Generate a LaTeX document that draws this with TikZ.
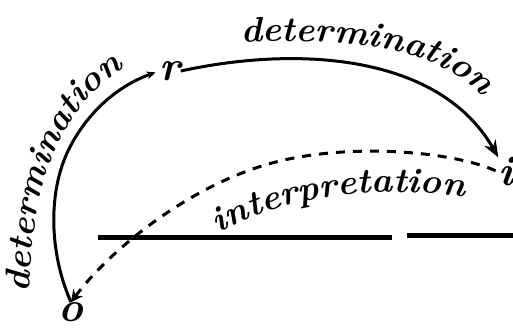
\documentclass[tikz,border=0pt]{standalone}
\usepackage{fontspec}
\usetikzlibrary{arrows.meta,decorations.text}
\newfontfamily\lmstretch[FakeStretch=1.03]{lmroman10-bolditalic.otf}
\tikzset{
  pt/.style={inner sep=0pt, font=\fontsize{42}{42}\selectfont\bfseries\itshape},
  solidarc/.style={line width=3pt},
  dasharc/.style={line width=3pt, dash pattern=on 9pt off 8pt},
  bar/.style={line width=5pt},
  arclabel/.style={decorate, decoration={text along path, text align=center,
     text={|\fontsize{35}{35}\lmstretch|#1}}}
}
\begin{document}
\begin{tikzpicture}[x=1pt,y=-1pt]
\useasboundingbox (0,0) rectangle (513,327);
\node[pt] (r) at (170,71) {r};
\node[pt] (i) at (506,172) {i};
\node[pt] (o) at (71,312) {o};
% horizontal bar
\draw[bar] (98,237) -- (392,237);
\draw[bar] (407,235.5) -- (513,235.5);
% o -> r
\draw[solidarc, -{Stealth[length=9pt,width=8pt]}, shorten >=4pt]
  (o.north) .. controls (52,260) and (46,200) .. (67,153)
  .. controls (85,115) and (115,87) .. (r.west);
% r -> i
\draw[solidarc, -{Stealth[length=17pt,width=13pt]}]
  (r.east) .. controls (300,45) and (440,55) .. (i.north west);
% i -> o dashed
\draw[dasharc, -{Stealth[length=12pt,width=12pt,inset=4pt]}, shorten <=3pt]
  (i.west) .. controls (450,150) and (330,140) .. (250,170)
  .. controls (180,195) and (110,250) .. (o.north);
% labels
\path[arclabel=determination] (30,285) .. controls (33,200) and (50,120) .. (118,72);
\path[arclabel=determination] (248,42) .. controls (340,38) and (430,45) .. (478,92);
\path[arclabel=interpretation] (225,230) .. controls (280,200) and (360,185) .. (457,196);
\end{tikzpicture}
\end{document}
